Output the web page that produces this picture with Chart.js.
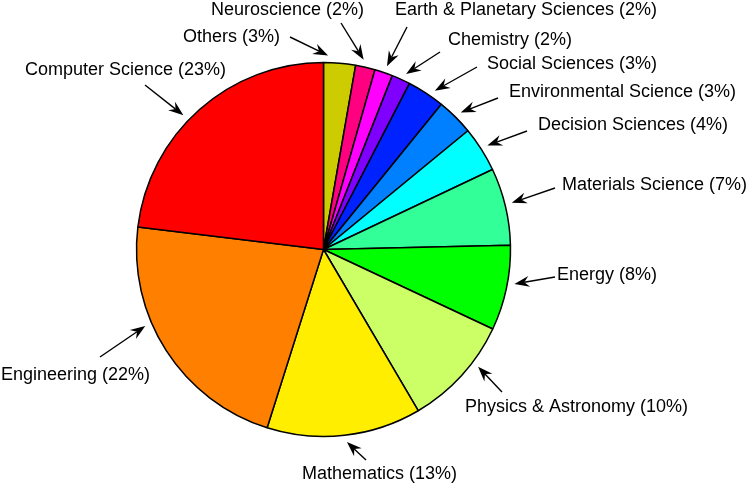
<!DOCTYPE html>
<html>
<head>
<meta charset="utf-8">
<script src="https://cdn.jsdelivr.net/npm/chart.js@4.4.1/dist/chart.umd.min.js"></script>
<style>
  body { margin: 0; background: #fff; }
  #wrap { width: 749px; height: 489px; }
</style>
</head>
<body>
<div id="wrap"><canvas id="pie" width="749" height="489"></canvas></div>
<script>
// DATA (clockwise from the top)
const subjects = ['Others', 'Neuroscience', 'Earth & Planetary Sciences', 'Chemistry',
  'Social Sciences', 'Environmental Science', 'Decision Sciences', 'Materials Science',
  'Energy', 'Physics & Astronomy', 'Mathematics', 'Engineering', 'Computer Science']
const shares = [2.75, 1.69, 1.56, 1.61, 3.25, 3.19, 3.92, 6.67, 7.36, 9.56, 13.33, 22.06, 23.08]
const shareLabels = ['3%', '2%', '2%', '2%', '3%', '3%', '4%', '7%', '8%', '10%', '13%', '22%', '23%']

const sliceColors = ['#cccc00', '#ff0080', '#ff00ff', '#8000ff', '#0022ff', '#0080ff', '#00ffff',
  '#33ff99', '#00ff00', '#ccff66', '#ffee00', '#ff8000', '#ff0000']

// label placement: text anchor (left, middle), arrow tail, small angle nudge for the arrow tip
const calloutLayout = [
  { tx: 183, ty: 37,  ax: 290, ay: 37,  nudge: -3.6 },
  { tx: 211, ty: 10,  ax: 341, ay: 23,  nudge: -1 },
  { tx: 395, ty: 10,  ax: 407, ay: 27,  nudge: 0.3 },
  { tx: 448, ty: 40,  ax: 440, ay: 52,  nudge: 0.7 },
  { tx: 487, ty: 64,  ax: 477, ay: 67,  nudge: 1.8 },
  { tx: 509, ty: 92,  ax: 498, ay: 98,  nudge: 0.2 },
  { tx: 538, ty: 125, ax: 527, ay: 131, nudge: 0 },
  { tx: 562, ty: 185, ax: 555, ay: 188, nudge: -0.6 },
  { tx: 557, ty: 275, ax: 555, ay: 277, nudge: -1.7 },
  { tx: 465, ty: 407, ax: 502, ay: 392, nudge: -5.2 },
  { tx: 302, ty: 474, ax: 366, ay: 460, nudge: -0.5 },
  { tx: 1,   ty: 375, ax: 100, ay: 357, nudge: 9.5 },
  { tx: 25,  ty: 70,  ax: 145, ay: 85,  nudge: -4.7 }
]

function drawArrow(c, x1, y1, x2, y2) {
  const ang = Math.atan2(y2 - y1, x2 - x1)
  const len = 15, half = 5.5, notch = 5
  const bx = x2 - Math.cos(ang) * (len - notch), by = y2 - Math.sin(ang) * (len - notch)
  c.beginPath()
  c.moveTo(x1, y1)
  c.lineTo(bx, by)
  c.lineWidth = 1.4
  c.strokeStyle = '#000'
  c.stroke()
  const px = -Math.sin(ang), py = Math.cos(ang)
  const backX = x2 - Math.cos(ang) * len, backY = y2 - Math.sin(ang) * len
  c.beginPath()
  c.moveTo(x2, y2)
  c.lineTo(backX + px * half, backY + py * half)
  c.lineTo(bx, by)
  c.lineTo(backX - px * half, backY - py * half)
  c.closePath()
  c.fillStyle = '#000'
  c.fill()
}

const calloutPlugin = {
  id: 'callouts',
  afterDraw(chart) {
    const c = chart.ctx
    const arcs = chart.getDatasetMeta(0).data
    c.save()
    c.font = '18px "Liberation Sans", Arial, sans-serif'
    c.textBaseline = 'middle'
    c.textAlign = 'left'
    arcs.forEach((arc, i) => {
      const p = arc.getProps(['x', 'y', 'startAngle', 'endAngle', 'outerRadius'], true)
      const lay = calloutLayout[i]
      const mid = (p.startAngle + p.endAngle) / 2 + lay.nudge * Math.PI / 180
      const r = p.outerRadius + 7
      const hx = p.x + Math.cos(mid) * r, hy = p.y + Math.sin(mid) * r
      drawArrow(c, lay.ax, lay.ay, hx, hy)
      c.fillStyle = '#000'
      c.fillText(`${subjects[i]} (${shareLabels[i]})`, lay.tx, lay.ty)
    })
    c.restore()
  }
}

const ctx = document.getElementById('pie').getContext('2d')

new Chart(ctx, {
  type: 'pie',
  data: {
    labels: subjects,
    datasets: [{
      data: shares,
      backgroundColor: sliceColors,
      borderColor: '#000',
      borderWidth: 1.5,
    }]
  },
  options: {
    responsive: false,
    animation: false,
    radius: 187,
    layout: { padding: { left: 130, right: 232, top: 60, bottom: 50 } },
    plugins: {
      legend: { display: false },
      tooltip: { enabled: false },
    }
  },
  plugins: [calloutPlugin]
});
</script>
</body>
</html>
